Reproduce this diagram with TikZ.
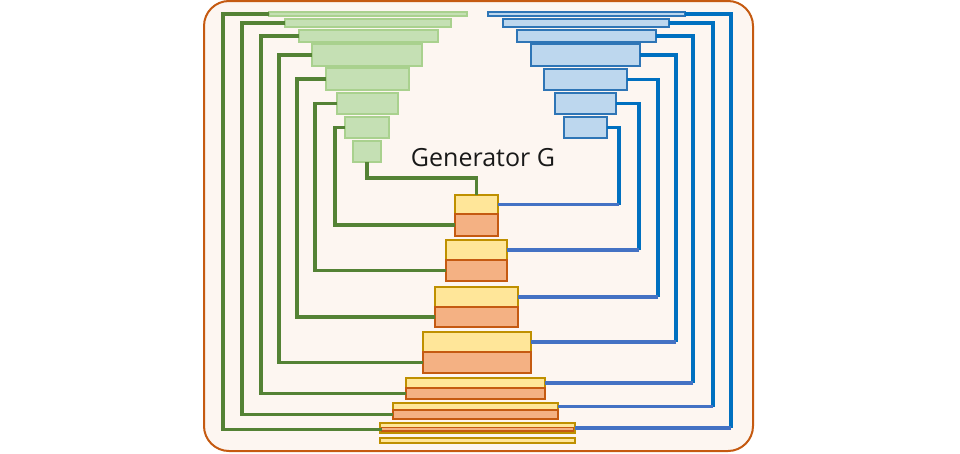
\documentclass[tikz,border=0pt]{standalone}
\usepackage{fontspec}
\setmainfont{Open Sans}
\usetikzlibrary{calc}
\definecolor{bgfill}{HTML}{FDF6F1}
\definecolor{frame}{HTML}{C55A11}
\definecolor{gfill}{HTML}{C5E0B4}
\definecolor{gdraw}{HTML}{A9D18E}
\definecolor{gline}{HTML}{548235}
\definecolor{bfill}{HTML}{BDD7EE}
\definecolor{bdraw}{HTML}{2E75B6}
\definecolor{bvline}{HTML}{0070C0}
\definecolor{bhline}{HTML}{4472C4}
\definecolor{yfill}{HTML}{FFE699}
\definecolor{ydraw}{HTML}{BF9000}
\definecolor{ofill}{HTML}{F4B183}
\definecolor{odraw}{HTML}{C55A11}
\tikzset{
  bar/.style={rectangle, inner sep=0pt, outer sep=0pt},
  gbar/.style={bar, fill=gfill, draw=gdraw, line width=1.5pt},
  bbar/.style={bar, fill=bfill, draw=bdraw, line width=1.6pt},
  ybar/.style={bar, fill=yfill, draw=ydraw, line width=1.6pt},
  obar/.style={bar, fill=ofill, draw=odraw, line width=1.6pt},
  gconn/.style={draw=gline, line width=3.2pt},
  bvconn/.style={draw=bvline, line width=3.2pt},
  bhconn/.style={draw=bhline, line width=3.2pt},
}
\newcommand{\mybar}[7]{% style, name, x1, x2, y1, y2
  \node[#1, minimum width={(#4-#3)*1pt}, minimum height={(#6-#5)*1pt}] (#2) at ({(#3+#4)/2},{(#5+#6)/2}) {};}
\begin{document}
\begin{tikzpicture}[x=1pt,y=-1pt]
\useasboundingbox (0,0) rectangle (960,453);
\draw[frame, fill=bgfill, line width=2pt, rounded corners=25pt] (204,1) rectangle (753,451);
% green bars
\mybar{gbar}{g1}{269}{467}{12}{16}{}
\mybar{gbar}{g2}{285}{451}{19}{27}{}
\mybar{gbar}{g3}{299}{438}{30}{42}{}
\mybar{gbar}{g4}{312}{422}{44}{66}{}
\mybar{gbar}{g5}{326}{409}{68}{90}{}
\mybar{gbar}{g6}{337}{398}{93}{114}{}
\mybar{gbar}{g7}{345}{389}{117}{138}{}
\mybar{gbar}{g8}{353}{381}{141}{162}{}
% blue bars
\mybar{bbar}{b1}{488}{685}{12}{16}{}
\mybar{bbar}{b2}{503}{669}{19}{27}{}
\mybar{bbar}{b3}{517}{656}{30}{42}{}
\mybar{bbar}{b4}{531}{640}{44}{66}{}
\mybar{bbar}{b5}{544}{627}{69}{90}{}
\mybar{bbar}{b6}{555}{616}{93}{114}{}
\mybar{bbar}{b7}{564}{607}{117}{138}{}
% stacks
\mybar{ybar}{s1y}{455}{498}{195}{214}{}
\mybar{obar}{s1o}{455}{498}{214}{236}{}
\mybar{ybar}{s2y}{446}{507}{240}{260}{}
\mybar{obar}{s2o}{446}{507}{260}{281}{}
\mybar{ybar}{s3y}{435}{518}{287}{307}{}
\mybar{obar}{s3o}{435}{518}{307}{327}{}
\mybar{ybar}{s4y}{423}{531}{332}{352}{}
\mybar{obar}{s4o}{423}{531}{352}{373}{}
\mybar{ybar}{s5y}{406}{545}{378}{388}{}
\mybar{obar}{s5o}{406}{545}{388}{399}{}
\mybar{ybar}{s6y}{393}{558}{403}{410}{}
\mybar{obar}{s6o}{393}{558}{410}{419}{}
\mybar{ybar}{s7y}{380}{575}{423}{433}{}
\mybar{obar}{s7o}{381.5}{573.5}{427.5}{431}{}
\mybar{ybar}{s8y}{380}{575}{438}{443}{}
% text
\node[inner sep=0pt, font=\fontsize{25}{29}\selectfont, text=black!90] (title) at (483,158) {Generator G};
% green connectors
\coordinate (xg1) at (223,0);
\coordinate (xg2) at (242,0);
\coordinate (xg3) at (261,0);
\coordinate (xg4) at (279,0);
\coordinate (xg5) at (297,0);
\coordinate (xg6) at (315,0);
\coordinate (xg7) at (335,0);
\coordinate (kg) at (0,178);
\draw[gconn] (g1.west) -- (g1.west -| xg1) |- (s7o.west);
\draw[gconn] (g2.west) -- (g2.west -| xg2) |- (s6o.west);
\draw[gconn] (g3.west) -- (g3.west -| xg3) |- (s5o.west);
\draw[gconn] (g4.west) -- (g4.west -| xg4) |- (s4o.west);
\draw[gconn] (g5.west) -- (g5.west -| xg5) |- (s3o.west);
\draw[gconn] (g6.west) -- (g6.west -| xg6) |- (s2o.west);
\draw[gconn] (g7.west) -- (g7.west -| xg7) |- (s1o.west);
\draw[gconn] (g8.south) -- (g8.south |- kg) -| (s1y.north);
% blue connectors
\coordinate (xb1) at (731,0);
\coordinate (xb2) at (713,0);
\coordinate (xb3) at (693,0);
\coordinate (xb4) at (676,0);
\coordinate (xb5) at (658,0);
\coordinate (xb6) at (639,0);
\coordinate (xb7) at (619,0);
\draw[bvconn] (b1.east) -- (b1.east -| xb1) -- (s7y.east -| xb1);
\draw[bhconn] (s7y.east -| xb1) -- (s7y.east);
\draw[bvconn] (b2.east) -- (b2.east -| xb2) -- (s6y.east -| xb2);
\draw[bhconn] (s6y.east -| xb2) -- (s6y.east);
\draw[bvconn] (b3.east) -- (b3.east -| xb3) -- (s5y.east -| xb3);
\draw[bhconn] (s5y.east -| xb3) -- (s5y.east);
\draw[bvconn] (b4.east) -- (b4.east -| xb4) -- (s4y.east -| xb4);
\draw[bhconn] (s4y.east -| xb4) -- (s4y.east);
\draw[bvconn] (b5.east) -- (b5.east -| xb5) -- (s3y.east -| xb5);
\draw[bhconn] (s3y.east -| xb5) -- (s3y.east);
\draw[bvconn] (b6.east) -- (b6.east -| xb6) -- (s2y.east -| xb6);
\draw[bhconn] (s2y.east -| xb6) -- (s2y.east);
\draw[bvconn] (b7.east) -- (b7.east -| xb7) -- (s1y.east -| xb7);
\draw[bhconn] (s1y.east -| xb7) -- (s1y.east);
\end{tikzpicture}
\end{document}
